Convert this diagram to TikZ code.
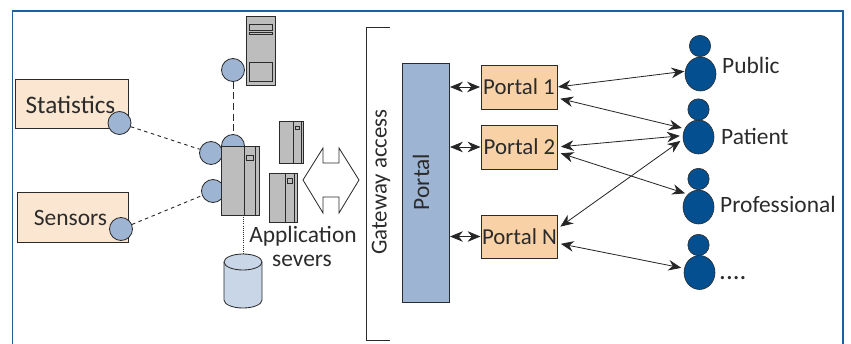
\documentclass[tikz,border=0pt]{standalone}
\usepackage{fontspec}
\setmainfont{Carlito}
\usepackage{tikz}
\usetikzlibrary{arrows.meta,shapes.geometric}
\definecolor{framecol}{HTML}{1F5F9E}
\definecolor{linecol}{HTML}{2B2B2B}
\definecolor{circlecol}{HTML}{9DB4D3}
\definecolor{servercol}{HTML}{BDBDBD}
\definecolor{palecol}{HTML}{FBE6D2}
\definecolor{portalcol}{HTML}{F8D2A6}
\definecolor{personcol}{HTML}{044F8F}
\definecolor{dbcol}{HTML}{C9D6E8}
\begin{document}
\begin{tikzpicture}[x=0.03cm,y=-0.03cm,>={Stealth[length=11pt,width=9pt]},
	roundnode/.style={circle,draw=linecol,fill=circlecol,line width=0.7pt,inner sep=0pt,minimum size=0.69cm},
	squarednode/.style={rectangle,draw=linecol,line width=0.7pt,inner sep=0pt,text=linecol,font=\fontsize{19.5}{19.5}\selectfont},
	servernode/.style={rectangle,draw=linecol,fill=servercol,line width=0.7pt,inner sep=0pt},
	headnode/.style={circle,draw=linecol,fill=personcol,line width=0.5pt,inner sep=0pt,minimum size=0.64cm},
	bodynode/.style={ellipse,draw=linecol,fill=personcol,line width=0.5pt,inner sep=0pt,minimum width=0.93cm,minimum height=1.02cm},
	textnode/.style={inner sep=0pt,text=linecol,font=\fontsize{20}{20}\selectfont},
	link/.style={<->,draw=black!85,line width=0.7pt,shorten <=0.5pt,shorten >=0.5pt},
	farlink/.style={<->,draw=black!85,line width=0.7pt,shorten <=2.5pt,shorten >=2.5pt},
	wire/.style={draw=linecol,line width=0.8pt}]
	\useasboundingbox (0,0) rectangle (851,344);
	
	\draw[framecol,line width=1pt] (12.5,344) -- (12.5,11) -- (843,11) -- (843,344);
	
	\node [squarednode,fill=palecol,minimum width=3.39cm,minimum height=1.47cm] (stat) at (71.5,103.5) {};
	\node [textnode,font=\fontsize{21.5}{21.5}\selectfont] (statt) at (70.5,105) {Statistics};
	\node [roundnode] (statc) at (119.5,123) {};
	\node [squarednode,fill=palecol,minimum width=3.33cm,minimum height=1.5cm] (sens) at (72.5,217) {};
	\node [textnode] (senst) at (70.5,218) {Sensors};
	\node [roundnode] (sensc) at (121,229) {};
	
	\node [servernode,minimum width=0.885cm,minimum height=2.07cm] (top) at (260.7,50.5) {};
	\draw[linecol,line width=0.7pt] (249,24) rectangle (272,30);
	\draw[linecol,line width=0.7pt] (249,32) rectangle (272,34);
	\draw[linecol,line width=0.7pt] (249,62) rectangle (272,81);
	\node [roundnode] (topc) at (233,70) {};
	
	\node [roundnode] (mainc) at (233,146) {};
	\node [roundnode] (mainl) at (211,153) {};
	\node [roundnode] (mainb) at (213,191) {};
	\node [servernode,minimum width=1.14cm,minimum height=2.07cm] (main) at (240,180.5) {};
	\draw[linecol,line width=0.7pt] (244,147) -- (244,215);
	\draw[linecol,line width=0.7pt] (255,147) -- (255,215);
	\draw[linecol,line width=0.7pt] (246,155) rectangle (253,160);
	
	\node [servernode,minimum width=0.72cm,minimum height=1.26cm] (appa) at (291.5,142) {};
	\draw[linecol,line width=0.7pt] (293.5,121) -- (293.5,163);
	\draw[linecol,line width=0.7pt] (301,121) -- (301,163);
	\draw[linecol,line width=0.7pt] (295,126) rectangle (299,129);
	\node [servernode,minimum width=0.84cm,minimum height=1.47cm] (appb) at (283,197.5) {};
	\draw[linecol,line width=0.7pt] (285.5,173) -- (285.5,222);
	\draw[linecol,line width=0.7pt] (294,173) -- (294,222);
	\draw[linecol,line width=0.7pt] (287,178) rectangle (292,183);
	
	\draw[linecol,line width=0.7pt,fill=white] (303,180) -- (323,148) -- (323,163) -- (339,163) -- (339,148) -- (359,180) -- (339,213) -- (339,197) -- (323,197) -- (323,213) -- cycle;
	
	\draw[linecol,line width=0.7pt,fill=dbcol] (224,262) -- (224,300) arc[start angle=180,end angle=0,x radius=19,y radius=8] -- (262,262) arc[start angle=0,end angle=-180,x radius=19,y radius=8] -- cycle;
	\draw[linecol,line width=0.7pt] (224,262) arc[start angle=180,end angle=0,x radius=19,y radius=8];
	\coordinate (dbtop) at (243.5,254);
	\coordinate (mainfoot) at (243.5,215);
	\draw[wire,dashed] (statc) -- (mainl);
	\draw[wire,dashed] (sensc) -- (mainb);
	\draw[wire,dash pattern=on 6pt off 3pt] (topc) -- (mainc);
	\draw[wire,densely dotted] (mainfoot) -- (dbtop);
	
	\node [textnode] (applabel) at (303,236) {Application};
	\node [textnode] (sevlabel) at (302,261) {severs};
	
	\node [textnode,rotate=90,font=\fontsize{19.5}{19.5}\selectfont] (gate) at (381,182) {Gateway access};
	\draw[linecol,line width=0.8pt] (390,27) -- (366,27) -- (366,340) -- (390,340);
	
	\node [squarednode,fill=circlecol,minimum width=1.41cm,minimum height=7.155cm] (portal) at (425.5,183) {};
	\node [textnode,rotate=90] (portalt) at (421,182) {Portal};
	\node [squarednode,fill=portalcol,minimum width=2.28cm,minimum height=1.32cm] (port1) at (519,87) {Portal 1};
	\node [squarednode,fill=portalcol,minimum width=2.28cm,minimum height=1.32cm] (port2) at (519.5,147) {Portal 2};
	\node [squarednode,fill=portalcol,minimum width=2.28cm,minimum height=1.29cm] (portn) at (519.5,236.5) {Portal N};
	
	\node [bodynode] (publicb) at (700.5,74) {};
	\node [headnode] (publich) at (700,46) {};
	\node [bodynode] (patientb) at (698.5,137) {};
	\node [headnode] (patienth) at (698.5,109.5) {};
	\node [bodynode] (profb) at (698.5,207) {};
	\node [headnode] (profh) at (698.5,179) {};
	\node [bodynode] (dotsb) at (699.5,272.5) {};
	\node [headnode] (dotsh) at (698.5,245) {};
	\node [textnode,anchor=west] (publict) at (722,65) {Public};
	\node [textnode,anchor=west] (patientt) at (721,136) {Patient};
	\node [textnode,anchor=west] (proft) at (720,204) {Professional};
	\node [textnode,anchor=base west,font=\fontsize{23}{23}\selectfont] (dotst) at (719,279) {....};
	
	\draw[link] (portal.east |- port1) to (port1);
	\draw[link] (portal.east |- port2) to (port2.west);
	\draw[link] (portal.east |- portn) to (portn.west);
	\draw[link] (port1.east) to (publicb.170);
	\draw[farlink] (port1.-16) to (patientb.149);
	\draw[farlink] (port2.east) to (patientb.175);
	\draw[farlink] (port2.-8) to (profb.130);
	\draw[farlink] (portn.12) to (patientb.188);
	\draw[farlink] (portn.-10) to (dotsb.165);
\end{tikzpicture}
\end{document}
